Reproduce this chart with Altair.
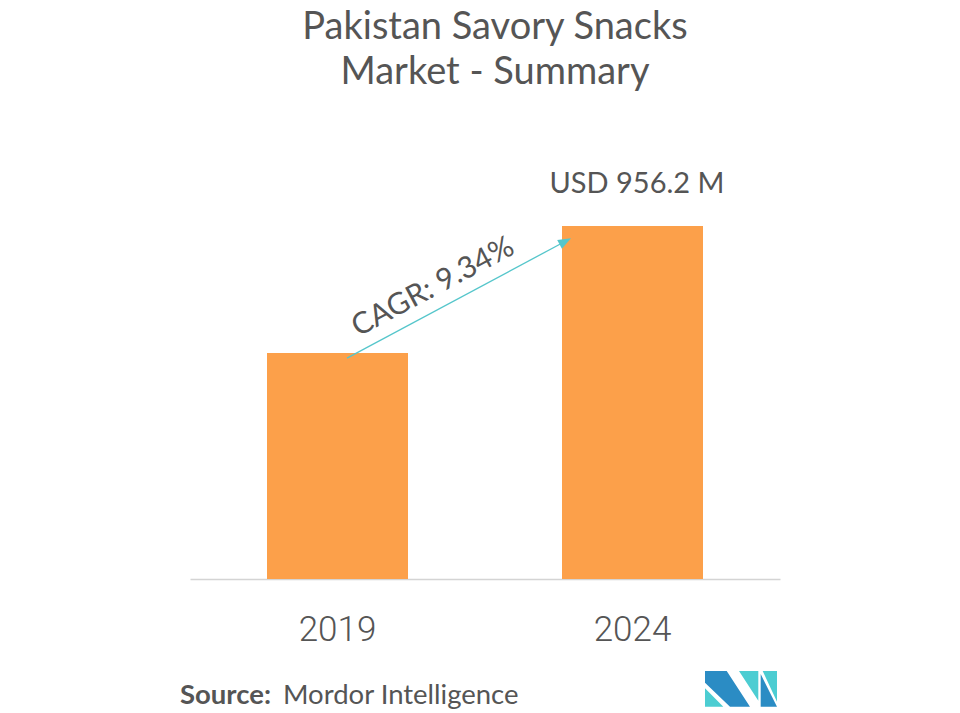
import altair as alt
import pandas as pd

# ---- data ----
years = ["2019", "2024"]
values = [612.0, 956.2]
value_labels = ["", "USD 956.2 M"]
title_lines = ["Pakistan Savory Snacks", "Market - Summary"]
cagr_text = ["CAGR: 9.34%"]
source_bold = ["Source:"]
source_rest = ["Mordor Intelligence"]

df = pd.DataFrame({"year": years, "value": values, "label": value_labels})
arrow_df = pd.DataFrame({"from": [years[0]], "to": [years[1]], "v0": [values[0]], "v1": [values[1]]})

TEXT = "#555555"
ORANGE = "#FCA04A"
TEAL = "#55C6CB"
DARK = "#2B8CC4"
LOGO_TEAL = "#4CCDD2"

xscale = alt.Scale(paddingInner=0, paddingOuter=0)
x = alt.X(
    "year:N",
    scale=xscale,
    axis=alt.Axis(
        title=None, labelAngle=0, ticks=False, labelPadding=61,
        labelBaseline="alphabetic", labelFont="Roboto", labelFontWeight=300,
        labelFontSize=35, labelColor=TEXT, domainColor="#d4d4d4",
        domainWidth=1.6, grid=False,
    ),
)
yscale = alt.Scale(domain=[0, 1200], nice=False, zero=True)
y = alt.Y("value:Q", scale=yscale, axis=None)

bars = alt.Chart(df).mark_bar(size=141, color=ORANGE).encode(x=x, y=y)

value_text = (
    alt.Chart(df)
    .transform_filter("datum.label != ''")
    .mark_text(dy=-33, dx=4.5, baseline="alphabetic", align="center",
               fontSize=29, font="Lato", color=TEXT)
    .encode(x=x, y=y, text="label:N")
)

arrow = (
    alt.Chart(arrow_df)
    .mark_rule(color=TEAL, strokeWidth=1.3, xOffset=9.5, yOffset=5,
               x2Offset=-70.3, y2Offset=17)
    .encode(x=alt.X("from:N", title=None), x2="to:N",
            y=alt.Y("v0:Q", title=None), y2="v1:Q")
)

arrow_head = (
    alt.Chart(arrow_df)
    .mark_point(shape="M0,-1L0.5,0.3L-0.5,0.3Z", size=400, angle=62,
                filled=True, opacity=1, strokeWidth=0, color=TEAL,
                xOffset=-70.3, yOffset=17)
    .encode(x=alt.X("to:N", title=None), y=alt.Y("v1:Q", title=None))
)

cagr = (
    alt.Chart(pd.DataFrame({"t": cagr_text}))
    .mark_text(angle=332, fontSize=30, font="Lato", color=TEXT,
               align="center", baseline="middle")
    .encode(x=alt.value(243), y=alt.value(151), text="t:N")
)

title1 = (
    alt.Chart(pd.DataFrame({"t": [title_lines[0]]}))
    .mark_text(fontSize=38, font="Lato", color=TEXT, align="center",
               baseline="alphabetic")
    .encode(x=alt.value(305), y=alt.value(-97.5), text="t:N")
)
title2 = (
    alt.Chart(pd.DataFrame({"t": [title_lines[1]]}))
    .mark_text(fontSize=38, font="Lato", color=TEXT, align="center",
               baseline="alphabetic")
    .encode(x=alt.value(305), y=alt.value(-52.5), text="t:N")
)

src1 = (
    alt.Chart(pd.DataFrame({"t": source_bold}))
    .mark_text(fontSize=27.5, font="Lato", fontWeight="bold", color=TEXT,
               align="left", baseline="alphabetic")
    .encode(x=alt.value(-10), y=alt.value(568.3), text="t:N")
)
src2 = (
    alt.Chart(pd.DataFrame({"t": source_rest}))
    .mark_text(fontSize=27.5, font="Lato", color=TEXT,
               align="left", baseline="alphabetic")
    .encode(x=alt.value(93), y=alt.value(568.3), text="t:N")
)

# ---- logo (decorative) ----
def to_path(polys, cx=741.0, cy=689.0, half=37.0):
    parts = []
    for poly in polys:
        pts = [f"{(px - cx) / half:.3f},{(py - cy) / half:.3f}" for px, py in poly]
        parts.append("M" + "L".join(pts) + "Z")
    return "".join(parts)

dark_polys = [
    [(705, 671), (726.7, 671), (750, 706.7), (730, 706.7), (705, 682.7)],
    [(760.7, 674), (777, 706.7), (760.7, 706.7)],
]
teal_polys = [
    [(705, 688.3), (705, 706.7), (723.3, 706.7)],
    [(739, 671), (758.3, 671), (758.3, 700.7)],
    [(762.7, 671), (777, 671), (777, 701.7)],
]
logo_df = pd.DataFrame({"k": [0]})
logo_dark = (
    alt.Chart(logo_df)
    .mark_point(shape=to_path(dark_polys), size=5476, filled=True, opacity=1,
                strokeWidth=0, color=DARK)
    .encode(x=alt.value(551), y=alt.value(553))
)
logo_teal = (
    alt.Chart(logo_df)
    .mark_point(shape=to_path(teal_polys), size=5476, filled=True, opacity=1,
                strokeWidth=0, color=LOGO_TEAL)
    .encode(x=alt.value(551), y=alt.value(553))
)

chart = (
    alt.layer(bars, value_text, arrow, arrow_head, cagr, title1, title2,
              src1, src2, logo_dark, logo_teal)
    .properties(
        width=590, height=443, autosize="none",
        padding={"left": 182, "top": 128, "right": 170, "bottom": 134},
        background="white",
    )
    .configure_view(stroke=None)
)

chart.save("out.html", embed_options={"renderer": "svg", "actions": False})
